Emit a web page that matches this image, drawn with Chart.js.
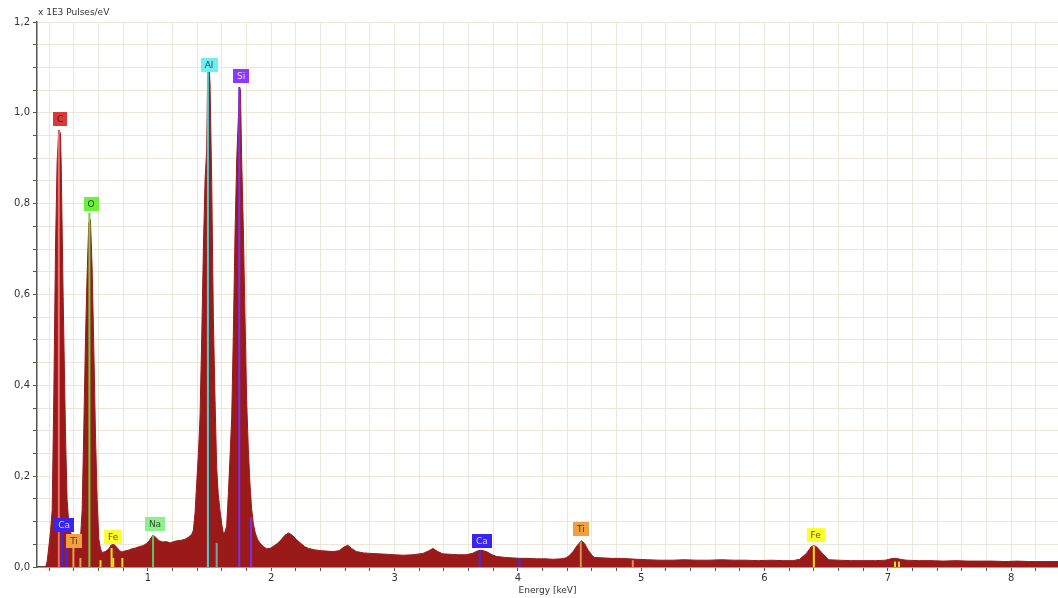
<!DOCTYPE html>
<html>
<head>
<meta charset="utf-8">
<script src="https://cdn.jsdelivr.net/npm/chart.js@4.4.1/dist/chart.umd.min.js"></script>
<style>
  html, body { margin: 0; padding: 0; background: #ffffff; }
  #wrap { width: 1058px; height: 598px; }
</style>
</head>
<body>
<div id="wrap"><canvas id="spec" width="1058" height="598"></canvas></div>
<script>
// EDS spectrum: energy (keV) and intensity (x 1E3 pulses/eV)
const energyKeV = [
  0.10, 0.17, 0.182, 0.196, 0.21, 0.223, 0.236, 0.25, 0.263, 0.277,
  0.29, 0.296, 0.312, 0.331, 0.344, 0.357, 0.371, 0.385, 0.398, 0.42,
  0.439, 0.452, 0.466, 0.479, 0.493, 0.506, 0.52, 0.533, 0.547, 0.561,
  0.574, 0.588, 0.601, 0.615, 0.628, 0.655, 0.682, 0.70, 0.723, 0.745,
  0.77, 0.79, 0.81, 0.84, 0.87, 0.90, 0.93, 0.96, 0.99, 1.01,
  1.04, 1.06, 1.09, 1.12, 1.15, 1.18, 1.21, 1.24, 1.27, 1.30,
  1.33, 1.355, 1.368, 1.382, 1.395, 1.409, 1.422, 1.436, 1.449, 1.463,
  1.476, 1.486, 1.496, 1.503, 1.517, 1.53, 1.544, 1.557, 1.57, 1.584,
  1.598, 1.611, 1.625, 1.638, 1.652, 1.665, 1.679, 1.692, 1.706, 1.72,
  1.733, 1.742, 1.75, 1.76, 1.773, 1.787, 1.8, 1.814, 1.827, 1.84,
  1.854, 1.87, 1.89, 1.908, 1.93, 1.963, 1.99, 2.02, 2.05, 2.08,
  2.11, 2.14, 2.17, 2.205, 2.24, 2.27, 2.30, 2.35, 2.395, 2.45,
  2.50, 2.55, 2.59, 2.62, 2.65, 2.69, 2.75, 2.80, 2.87, 2.94,
  3.00, 3.07, 3.15, 3.23, 3.28, 3.31, 3.35, 3.39, 3.45, 3.52,
  3.58, 3.63, 3.67, 3.70, 3.745, 3.79, 3.83, 3.90, 3.96, 4.015,
  4.08, 4.15, 4.22, 4.285, 4.35, 4.39, 4.42, 4.447, 4.48, 4.515,
  4.54, 4.57, 4.60, 4.62, 4.70, 4.76, 4.83, 4.90, 4.96, 5.05,
  5.15, 5.25, 5.35, 5.45, 5.55, 5.65, 5.75, 5.85, 5.95, 6.05,
  6.15, 6.23, 6.285, 6.34, 6.38, 6.40, 6.42, 6.47, 6.52, 6.60,
  6.70, 6.80, 6.90, 6.98, 7.04, 7.07, 7.10, 7.15, 7.25, 7.35,
  7.45, 7.55, 7.65, 7.75, 7.85, 7.95, 8.05, 8.15, 8.25, 8.38
];
const countsK = [
  0, 0, 0.012, 0.044, 0.08, 0.125, 0.37, 0.70, 0.89, 0.962,
  0.955, 0.89, 0.595, 0.295, 0.148, 0.10, 0.08, 0.062, 0.053, 0.048,
  0.047, 0.06, 0.125, 0.295, 0.50, 0.64, 0.758, 0.765, 0.66, 0.478,
  0.295, 0.148, 0.062, 0.04, 0.032, 0.034, 0.04, 0.048, 0.05, 0.044,
  0.036, 0.033, 0.035, 0.037, 0.040, 0.042, 0.045, 0.047, 0.052, 0.058,
  0.07, 0.066, 0.058, 0.055, 0.056, 0.053, 0.056, 0.058, 0.059, 0.061,
  0.066, 0.072, 0.081, 0.12, 0.184, 0.25, 0.33, 0.507, 0.698, 0.852,
  0.918, 1.12, 1.10, 1.066, 0.846, 0.55, 0.367, 0.22, 0.16, 0.125,
  0.095, 0.074, 0.078, 0.09, 0.162, 0.24, 0.33, 0.51, 0.735, 0.90,
  0.99, 1.057, 1.05, 0.896, 0.749, 0.55, 0.367, 0.258, 0.184, 0.13,
  0.096, 0.075, 0.06, 0.053, 0.046, 0.04, 0.041, 0.046, 0.052, 0.06,
  0.07, 0.075, 0.07, 0.06, 0.052, 0.045, 0.041, 0.038, 0.036, 0.035,
  0.034, 0.036, 0.044, 0.048, 0.041, 0.034, 0.031, 0.030, 0.029, 0.028,
  0.027, 0.026, 0.027, 0.030, 0.036, 0.041, 0.034, 0.029, 0.028, 0.027,
  0.027, 0.030, 0.035, 0.037, 0.034, 0.027, 0.023, 0.021, 0.020, 0.019,
  0.019, 0.018, 0.018, 0.017, 0.018, 0.020, 0.026, 0.034, 0.047, 0.058,
  0.052, 0.037, 0.026, 0.021, 0.020, 0.019, 0.019, 0.018, 0.017, 0.016,
  0.015, 0.015, 0.016, 0.015, 0.015, 0.016, 0.015, 0.015, 0.014, 0.015,
  0.014, 0.014, 0.017, 0.030, 0.045, 0.047, 0.045, 0.030, 0.016, 0.015,
  0.014, 0.014, 0.014, 0.015, 0.019, 0.019, 0.017, 0.015, 0.014, 0.014,
  0.013, 0.014, 0.013, 0.013, 0.013, 0.012, 0.013, 0.012, 0.012, 0.012
];

// Element line markers: position (keV), drawn height, colour
const markerEnergy = [0.277, 0.302, 0.341, 0.395, 0.452, 0.525, 0.615, 0.705, 0.718, 0.792,
                      1.041, 1.486, 1.557, 1.740, 1.836, 3.690, 4.013, 4.510, 4.932, 6.400, 7.058, 7.090];
const markerHeight = [0.96, 0.086, 0.065, 0.055, 0.02, 0.78, 0.015, 0.042, 0.02, 0.02,
                      0.07, 1.10, 0.053, 1.057, 0.11, 0.037, 0.02, 0.056, 0.015, 0.046, 0.012, 0.012];
const markerColor = ['#e87070', '#3a2cf0', '#3a2cf0', '#e0a050', '#e0a050', '#70d040', '#e8e020', '#e8e020', '#e8e020', '#e8e020',
                     '#58c860', '#48d0d0', '#78a8a8', '#7a30f0', '#7a30f0', '#3a2cf0', '#3a2cf0', '#d89050', '#d89050', '#f0e020', '#f0e020', '#f0e020'];

// Element tags
const labelText   = ['C', 'O', 'Al', 'Si', 'Ca', 'Ti', 'Fe', 'Na', 'Ca', 'Ti', 'Fe'];
const labelEnergy = [0.288, 0.539, 1.495, 1.755, 0.320, 0.400, 0.717, 1.057, 3.707, 4.510, 6.414];
const labelLevel  = [0.987, 0.800, 1.106, 1.081, 0.0925, 0.057, 0.066, 0.095, 0.057, 0.084, 0.070];
const labelFill   = ['#d83a3a', '#6cf03a', '#6ef0f0', '#8a38ff', '#3a24f0', '#f0a040', '#ffff30', '#8cf08c', '#3a24f0', '#f0a040', '#ffff30'];
const labelInk    = ['#5a1010', '#24501a', '#224a4a', '#e8dcff', '#d8d8ff', '#5a3a10', '#505010', '#2a502a', '#d8d8ff', '#5a3a10', '#505010'];

// Axis labelling
const xMajorTicks = [1, 2, 3, 4, 5, 6, 7, 8];
const yMajorTicks = ['0,0', '0,2', '0,4', '0,6', '0,8', '1,0', '1,2'];

const gridX = [];
for (let k = 1; k <= 41; k++) gridX.push((2 * k) / 10);
const gridY = [];
for (let k = 0; k <= 24; k++) gridY.push((5 * k) / 100);

const spectrum = energyKeV.map((e, i) => ({ x: e, y: countsK[i] }));

const markerSets = markerEnergy.map((e, i) => ({
  data: [{ x: e, y: 0 }, { x: e, y: markerHeight[i] }],
  borderColor: markerColor[i],
  borderWidth: 2,
  pointRadius: 0,
  fill: false,
  order: 0
}));

const peakLabels = {
  id: 'peakLabels',
  afterDatasetsDraw(chart) {
    const { ctx, scales: { x, y } } = chart;
    ctx.save();
    ctx.font = '9px "DejaVu Sans"';
    ctx.textAlign = 'center';
    ctx.textBaseline = 'middle';
    labelText.forEach((t, i) => {
      const px = x.getPixelForValue(labelEnergy[i]);
      const py = y.getPixelForValue(labelLevel[i]);
      const w = Math.round(Math.max(14, ctx.measureText(t).width + 8));
      const h = 14;
      ctx.fillStyle = labelFill[i];
      ctx.fillRect(Math.round(px - w / 2), Math.round(py - h / 2), w, h);
      ctx.fillStyle = labelInk[i];
      ctx.fillText(t, px, py + 0.5);
    });
    ctx.restore();
  }
};

const unitCaption = {
  id: 'unitCaption',
  afterDraw(chart) {
    const { ctx, chartArea } = chart;
    ctx.save();
    ctx.font = '9px "DejaVu Sans"';
    ctx.fillStyle = '#333333';
    ctx.textAlign = 'left';
    ctx.textBaseline = 'alphabetic';
    ctx.fillText('x 1E3 Pulses/eV', chartArea.left + 1, chartArea.top - 7);
    ctx.restore();
  }
};

new Chart(document.getElementById('spec'), {
  type: 'line',
  data: {
    datasets: [
      ...markerSets,
      {
        data: spectrum,
        borderColor: '#9a1a1a',
        backgroundColor: '#9a1a1a',
        borderWidth: 1,
        pointRadius: 0,
        tension: 0,
        fill: 'origin',
        order: 10
      }
    ]
  },
  options: {
    responsive: false,
    animation: false,
    layout: { padding: { top: 22, right: 0, left: 0, bottom: 0 } },
    plugins: { legend: { display: false }, tooltip: { enabled: false }, title: { display: false } },
    scales: {
      x: {
        type: 'linear',
        min: 0.1,
        max: 8.38,
        afterBuildTicks: s => { s.ticks = gridX.map(v => ({ value: v })); },
        afterFit: s => { s.height = 31; },
        ticks: {
          autoSkip: false,
          maxRotation: 0,
          padding: 1,
          color: '#333333',
          font: { family: 'DejaVu Sans', size: 10 },
          callback: v => (xMajorTicks.includes(v) ? String(v) : '')
        },
        grid: { color: '#ebe8da', lineWidth: 1, tickLength: 4, tickColor: '#555555' },
        border: { display: true, color: '#555555', width: 1.5 },
        title: {
          display: true,
          text: 'Energy [keV]',
          color: '#333333',
          font: { family: 'DejaVu Sans', size: 9 },
          padding: { top: 0, bottom: 2 }
        }
      },
      y: {
        min: 0,
        max: 1.2,
        afterBuildTicks: s => { s.ticks = gridY.map(v => ({ value: v })); },
        afterFit: s => { s.width = 37; },
        ticks: {
          padding: 3,
          color: '#333333',
          font: { family: 'DejaVu Sans', size: 10 },
          callback: v => {
            const k = Math.round(v * 100 / 20);
            return Math.abs(v * 100 - k * 20) < 1e-6 ? yMajorTicks[k] : '';
          }
        },
        grid: { color: '#ebe8da', lineWidth: 1, tickLength: 4, tickColor: '#555555' },
        border: { display: true, color: '#555555', width: 1.5 }
      }
    }
  },
  plugins: [peakLabels, unitCaption]
});
</script>
</body>
</html>
